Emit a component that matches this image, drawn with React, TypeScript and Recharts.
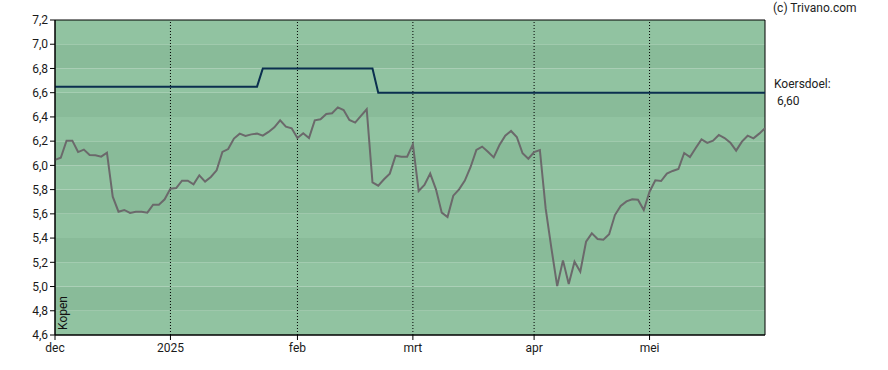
import React from 'react';
import { LineChart, Line, XAxis, YAxis, ReferenceArea, ReferenceLine } from 'recharts';

// slotkoersen per handelsdag (dec 2024 t/m eind mei 2025)
const prices = [
  6.045, 6.063, 6.204, 6.204, 6.11, 6.13, 6.086, 6.083, 6.072, 6.105,
  5.742, 5.618, 5.632, 5.607, 5.618, 5.618, 5.61, 5.676, 5.676, 5.72,
  5.808, 5.813, 5.874, 5.874, 5.844, 5.918, 5.866, 5.904, 5.959, 6.111,
  6.135, 6.221, 6.262, 6.243, 6.256, 6.262, 6.245, 6.276, 6.314, 6.372,
  6.32, 6.306, 6.226, 6.265, 6.226, 6.372, 6.38, 6.424, 6.43, 6.479,
  6.457, 6.375, 6.353, 6.408, 6.463, 5.86, 5.833, 5.885, 5.932, 6.08,
  6.072, 6.072, 6.174, 5.789, 5.838, 5.932, 5.802, 5.61, 5.574, 5.75,
  5.802, 5.874, 5.987, 6.127, 6.155, 6.113, 6.066, 6.168, 6.245, 6.284,
  6.234, 6.1, 6.055, 6.11, 6.127, 5.645, 5.315, 5.004, 5.216, 5.021,
  5.205, 5.123, 5.37, 5.439, 5.392, 5.387, 5.431, 5.59, 5.665, 5.703,
  5.72, 5.717, 5.632, 5.783, 5.877, 5.871, 5.932, 5.954, 5.97, 6.102,
  6.069, 6.143, 6.215, 6.185, 6.204, 6.251, 6.226, 6.188, 6.122, 6.196,
  6.245, 6.223, 6.262, 6.306,
];

// koersdoel: waarde vanaf handelsdag (index)
const targetSteps = [
  { from: 0, value: 6.65 },
  { from: 36, value: 6.8 },
  { from: 56, value: 6.6 },
];

const monthTicks = [0, 20, 42, 62, 83, 103];
const monthLabels = ['dec', '2025', 'feb', 'mrt', 'apr', 'mei'];

const yTicks = [4.6, 4.8, 5.0, 5.2, 5.4, 5.6, 5.8, 6.0, 6.2, 6.4, 6.6, 6.8, 7.0, 7.2];

const data = prices.map((p, i) => {
  let target = targetSteps[0].value;
  targetSteps.forEach((s) => {
    if (i >= s.from) target = s.value;
  });
  return { i, price: p, target };
});

const fmt = (v: number) => v.toFixed(1).replace('.', ',');
const font = 'Roboto, "Liberation Sans", sans-serif';

export default function App() {
  const last = data.length - 1;
  return (
    <div style={{ position: 'absolute', left: 0, top: 0, width: 888, height: 370, background: '#fff', fontFamily: font }}>
      <LineChart width={888} height={370} data={data} margin={{ top: 20, right: 123, bottom: 0, left: 0 }}>
        {yTicks.slice(0, -1).map((t, k) => (
          <ReferenceArea
            key={t}
            x1={0}
            x2={last}
            y1={t}
            y2={yTicks[k + 1]}
            fill={k % 2 === 0 ? '#91c3a1' : '#89bb99'}
            fillOpacity={1}
            stroke="none"
          />
        ))}
        {monthTicks.slice(1).map((m) => (
          <ReferenceLine key={m} x={m} stroke="#000" strokeDasharray="1 2" strokeWidth={1} />
        ))}
        <XAxis
          dataKey="i"
          type="number"
          domain={[0, last]}
          ticks={monthTicks}
          tickFormatter={(v) => monthLabels[monthTicks.indexOf(v)]}
          interval={0}
          height={35}
          tickSize={5}
          tickMargin={3}
          stroke="#000"
          tick={{ fill: '#1a1a1a', fontSize: 12, fontFamily: font }}
        />
        <YAxis
          type="number"
          domain={[4.6, 7.2]}
          ticks={yTicks}
          tickFormatter={fmt}
          interval={0}
          width={55}
          tickSize={5}
          tickMargin={2}
          stroke="#000"
          tick={{ fill: '#1a1a1a', fontSize: 12, fontFamily: font }}
        />
        <ReferenceArea x1={0} x2={last} y1={4.6} y2={7.2} fill="none" stroke="#000" strokeWidth={1} />
        <Line type="linear" dataKey="target" stroke="#0b2f4f" strokeWidth={2} dot={false} isAnimationActive={false} />
        <Line type="linear" dataKey="price" stroke="#6b696b" strokeWidth={2} dot={false} isAnimationActive={false} />
      </LineChart>
      <div style={{ position: 'absolute', left: 773, top: 1, fontSize: 12, color: '#222' }}>(c) Trivano.com</div>
      <div style={{ position: 'absolute', left: 774, top: 77, fontSize: 12, color: '#222' }}>Koersdoel:</div>
      <div style={{ position: 'absolute', left: 777, top: 94, fontSize: 12, color: '#222' }}>6,60</div>
      <div
        style={{
          position: 'absolute',
          left: 63,
          top: 313,
          fontSize: 12,
          color: '#111',
          transform: 'translate(-50%, -50%) rotate(-90deg)',
          whiteSpace: 'nowrap',
        }}
      >
        Kopen
      </div>
    </div>
  );
}
